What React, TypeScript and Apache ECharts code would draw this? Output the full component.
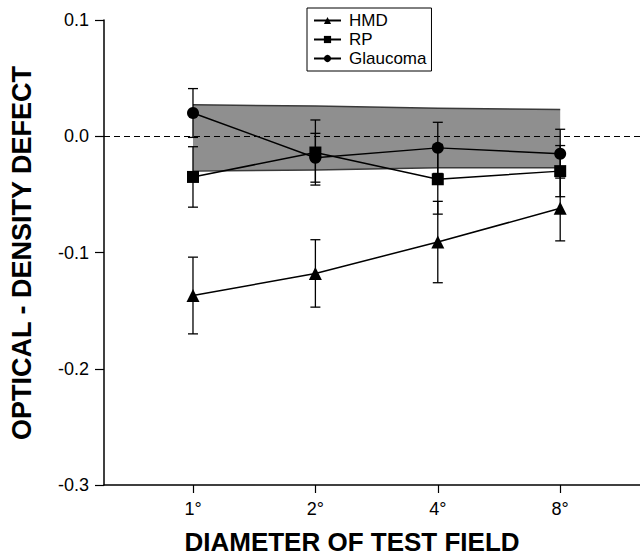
import React, { useEffect, useRef } from "react";
import * as echarts from "echarts";

const xLabels = ["1°", "2°", "4°", "8°"];
const xPos = [0, 1, 2, 3];

const hmd = [-0.137, -0.118, -0.091, -0.062];
const hmdErr = [0.033, 0.029, 0.035, 0.028];
const rp = [-0.035, -0.014, -0.037, -0.03];
const rpErr = [0.026, 0.028, 0.03, 0.022];
const glaucoma = [0.02, -0.0185, -0.01, -0.015];
const glaucomaErr = [0.021, 0.021, 0.022, 0.021];

const bandUpper = [0.027, 0.026, 0.024, 0.023];
const bandLower = [-0.03, -0.029, -0.027, -0.027];

const yTicks = [-0.3, -0.2, -0.1, 0.0, 0.1];

const FONT = '"Liberation Sans", Arial, Helvetica, sans-serif';

export default function App() {
  const ref = useRef<HTMLDivElement>(null);

  useEffect(() => {
    if (!ref.current) return;
    const chart = echarts.init(ref.current, null, { renderer: "svg" });

    const errData: number[][] = [];
    [
      [hmd, hmdErr],
      [rp, rpErr],
      [glaucoma, glaucomaErr],
    ].forEach(([vals, errs]) => {
      vals.forEach((v, i) => {
        errData.push([xPos[i], v - errs[i], v + errs[i]]);
      });
    });

    const lineCommon = {
      type: "line" as const,
      symbolSize: 12,
      z: 5,
      lineStyle: { color: "#000", width: 1.5 },
      itemStyle: { color: "#000" },
    };

    const option: any = {
      animation: false,
      backgroundColor: "#fff",
      textStyle: { fontFamily: FONT },
      grid: { left: 104, right: 0, top: 20, bottom: 72, containLabel: false },
      legend: {
        orient: "vertical",
        left: 307,
        top: 8,
        padding: [4, 5, 4, 6],
        itemGap: 2,
        itemWidth: 27,
        itemHeight: 9,
        borderColor: "#000",
        borderWidth: 1,
        data: ["HMD", "RP", "Glaucoma"],
        textStyle: { fontSize: 17, color: "#000", fontFamily: FONT, padding: [0, 0, 0, 3] },
      },
      xAxis: {
        type: "value",
        min: -0.727,
        max: 3.652,
        axisLine: { show: true, onZero: false, lineStyle: { color: "#000", width: 1.5 } },
        axisTick: {
          show: true,
          inside: false,
          length: 8,
          customValues: xPos,
          lineStyle: { color: "#000", width: 1.2 },
        },
        axisLabel: {
          customValues: xPos,
          margin: 15,
          fontSize: 18,
          color: "#000",
          fontFamily: FONT,
          formatter: (v: number) => xLabels[Math.round(v)] ?? "",
        },
        splitLine: { show: false },
      },
      yAxis: {
        type: "value",
        min: -0.3,
        max: 0.1,
        interval: 0.1,
        axisLine: { show: true, onZero: false, lineStyle: { color: "#000", width: 1.5 } },
        axisTick: {
          show: true,
          length: 9,
          customValues: yTicks,
          lineStyle: { color: "#000", width: 1.2 },
        },
        axisLabel: {
          customValues: yTicks,
          margin: 15,
          fontSize: 18,
          color: "#000",
          fontFamily: FONT,
          formatter: (v: number) => v.toFixed(1).replace("-0.0", "0.0"),
        },
        splitLine: { show: false },
      },
      series: [
        {
          name: "band",
          type: "custom",
          z: 1,
          silent: true,
          data: xPos.map((x, i) => [x, bandUpper[i], bandLower[i]]),
          renderItem: (params: any, api: any) => {
            if (params.dataIndex !== 0) return null;
            const up = xPos.map((x, i) => api.coord([x, bandUpper[i]]));
            const lo = xPos.map((x, i) => api.coord([x, bandLower[i]]));
            const poly = up.concat(lo.slice().reverse());
            return {
              type: "group",
              children: [
                {
                  type: "polygon",
                  shape: { points: poly },
                  style: { fill: "#8f8f8f", stroke: "none" },
                },
                {
                  type: "polyline",
                  shape: { points: up },
                  style: { fill: null, stroke: "#3a3a3a", lineWidth: 1.5 },
                },
                {
                  type: "polyline",
                  shape: { points: lo },
                  style: { fill: null, stroke: "#3a3a3a", lineWidth: 1.5 },
                },
              ],
            };
          },
        },
        {
          name: "errors",
          type: "custom",
          z: 3,
          silent: true,
          data: errData,
          renderItem: (params: any, api: any) => {
            const x = api.value(0);
            const lo = api.coord([x, api.value(1)]);
            const hi = api.coord([x, api.value(2)]);
            const hw = 5;
            const st = { stroke: "#000", lineWidth: 1.3 };
            return {
              type: "group",
              children: [
                { type: "line", shape: { x1: lo[0], y1: lo[1], x2: hi[0], y2: hi[1] }, style: st },
                { type: "line", shape: { x1: lo[0] - hw, y1: lo[1], x2: lo[0] + hw, y2: lo[1] }, style: st },
                { type: "line", shape: { x1: hi[0] - hw, y1: hi[1], x2: hi[0] + hw, y2: hi[1] }, style: st },
              ],
            };
          },
        },
        {
          ...lineCommon,
          name: "HMD",
          symbol: "triangle",
          symbolSize: 13,
          data: xPos.map((x, i) => [x, hmd[i]]),
          markLine: {
            silent: true,
            symbol: "none",
            label: { show: false },
            lineStyle: { color: "#000", type: [6, 4], width: 1.2 },
            data: [{ yAxis: 0 }],
          },
        },
        {
          ...lineCommon,
          name: "RP",
          symbol: "rect",
          data: xPos.map((x, i) => [x, rp[i]]),
        },
        {
          ...lineCommon,
          name: "Glaucoma",
          symbol: "circle",
          data: xPos.map((x, i) => [x, glaucoma[i]]),
        },
      ],
      graphic: [
        {
          type: "text",
          x: 352,
          y: 542,
          style: {
            text: "DIAMETER OF TEST FIELD",
            fill: "#000",
            font: `bold 26px ${FONT}`,
            align: "center",
            verticalAlign: "middle",
            textAlign: "center",
            textVerticalAlign: "middle",
          },
        },
        {
          type: "text",
          x: 22,
          y: 253,
          rotation: Math.PI / 2,
          style: {
            text: "OPTICAL - DENSITY DEFECT",
            fill: "#000",
            font: `bold 27px ${FONT}`,
            align: "center",
            verticalAlign: "middle",
            textAlign: "center",
            textVerticalAlign: "middle",
          },
        },
      ],
    };

    chart.setOption(option);
    return () => {
      chart.dispose();
    };
  }, []);

  return (
    <div
      ref={ref}
      style={{ position: "fixed", left: 0, top: 0, width: 640, height: 557, background: "#fff" }}
    />
  );
}
